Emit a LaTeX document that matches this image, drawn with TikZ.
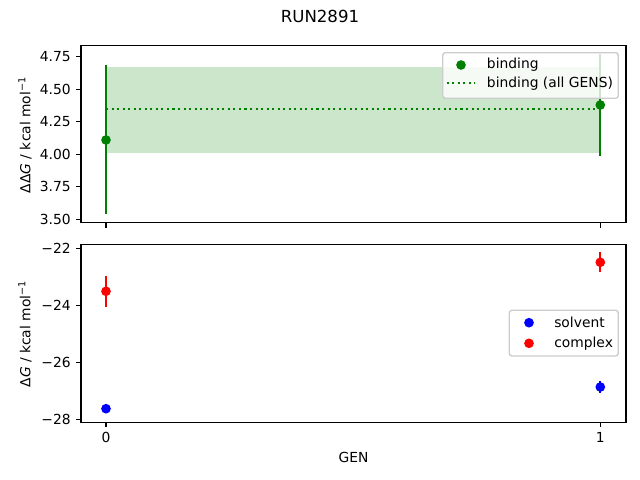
\documentclass[tikz,border=0pt]{standalone}
\usepackage{fontspec}
\setmainfont{DejaVu Sans}
\definecolor{mplgreen}{RGB}{0,128,0}
\definecolor{mplblue}{RGB}{0,0,255}
\definecolor{mplred}{RGB}{255,0,0}
\tikzset{
	frame/.style={line width=0.8pt},
	tickmark/.style={line width=0.8pt},
	errbar/.style={line width=1.5pt},
	dot/.style={circle,inner sep=0pt,minimum size=7pt},
	legendbox/.style={draw=black!20,fill=white,fill opacity=0.8,rounded corners=2pt,line width=1pt},
	lbl/.style={anchor=west,inner sep=0pt},
}
\begin{document}
\begin{tikzpicture}[x=0.01in,y=-0.01in,font=\fontsize{10}{12}\selectfont]
	\useasboundingbox(0,0)rectangle(640,480);
	\node[font=\fontsize{12}{14}\selectfont](title)at(320,16){RUN2891};
	% upper panel
	\fill[mplgreen,opacity=0.2](106,67.3)rectangle(600.3,152.7);
	\draw[mplgreen,line width=1.5pt,dash pattern=on 1.5pt off 2.5pt](106,109)--(600.3,109);
	\draw[errbar,mplgreen](106,65)--(106,214.3) (600.3,54.3)--(600.3,155.7);
	\node[dot,fill=mplgreen](b0)at(106,140){};
	\node[dot,fill=mplgreen](b1)at(600.3,105){};
	\draw[frame](81,45.3)rectangle(626,222.7);
	\foreach \y/\v in {56.7/4.75,89.2/4.50,121.7/4.25,154.2/4.00,186.7/3.75,219.2/3.50}
		\draw[tickmark](81,\y)--+(-4.9,0)node[anchor=east,inner sep=3.5pt]{\v};
	\foreach \x in {106,600.3}
		\draw[tickmark](\x,222.7)--+(0,4.9);
	\node[rotate=90](ylabtop)at(25,135){ΔΔ\textit{G} / kcal mol\textsuperscript{−1}};
	\draw[legendbox](442.7,52.7)rectangle(618.3,98.3);
	\node[dot,fill=mplgreen](lgb)at(461,65){};
	\node[lbl](lgbt)at(486.7,65){binding};
	\draw[mplgreen,line width=1.5pt,dash pattern=on 1.5pt off 2.5pt](446.7,83.3)--(475,83.3);
	\node[lbl](lgat)at(486.7,83.3){binding (all GENS)};
	% lower panel
	\draw[errbar,mplred](106,276)--(106,306.7) (600.3,252)--(600.3,271.7);
	\draw[errbar,mplblue](106,406)--(106,411.4) (600.3,381)--(600.3,393);
	\node[dot,fill=mplblue](s0)at(106,408.7){};
	\node[dot,fill=mplblue](s1)at(600.3,387){};
	\node[dot,fill=mplred](c0)at(106,291.3){};
	\node[dot,fill=mplred](c1)at(600.3,262.3){};
	\draw[frame](81,244.3)rectangle(626,422.3);
	\foreach \y/\v in {248.3/−22,305.5/−24,362.7/−26,419.9/−28}
		\draw[tickmark](81,\y)--+(-4.9,0)node[anchor=east,inner sep=3.5pt]{\v};
	\foreach \x/\v in {106/0,600.3/1}
		\draw[tickmark](\x,422.3)--+(0,4.9)node[anchor=north,inner sep=3.5pt]{\v};
	\node[rotate=90](ylabbot)at(25,334){Δ\textit{G} / kcal mol\textsuperscript{−1}};
	\node(xlab)at(353.5,457){GEN};
	\draw[legendbox](509.3,310.3)rectangle(618.3,356);
	\node[dot,fill=mplblue](lgs)at(529,322.7){};
	\node[lbl](lgst)at(554,322.7){solvent};
	\node[dot,fill=mplred](lgc)at(529,343.3){};
	\node[lbl](lgct)at(554,343.3){complex};
\end{tikzpicture}
\end{document}
